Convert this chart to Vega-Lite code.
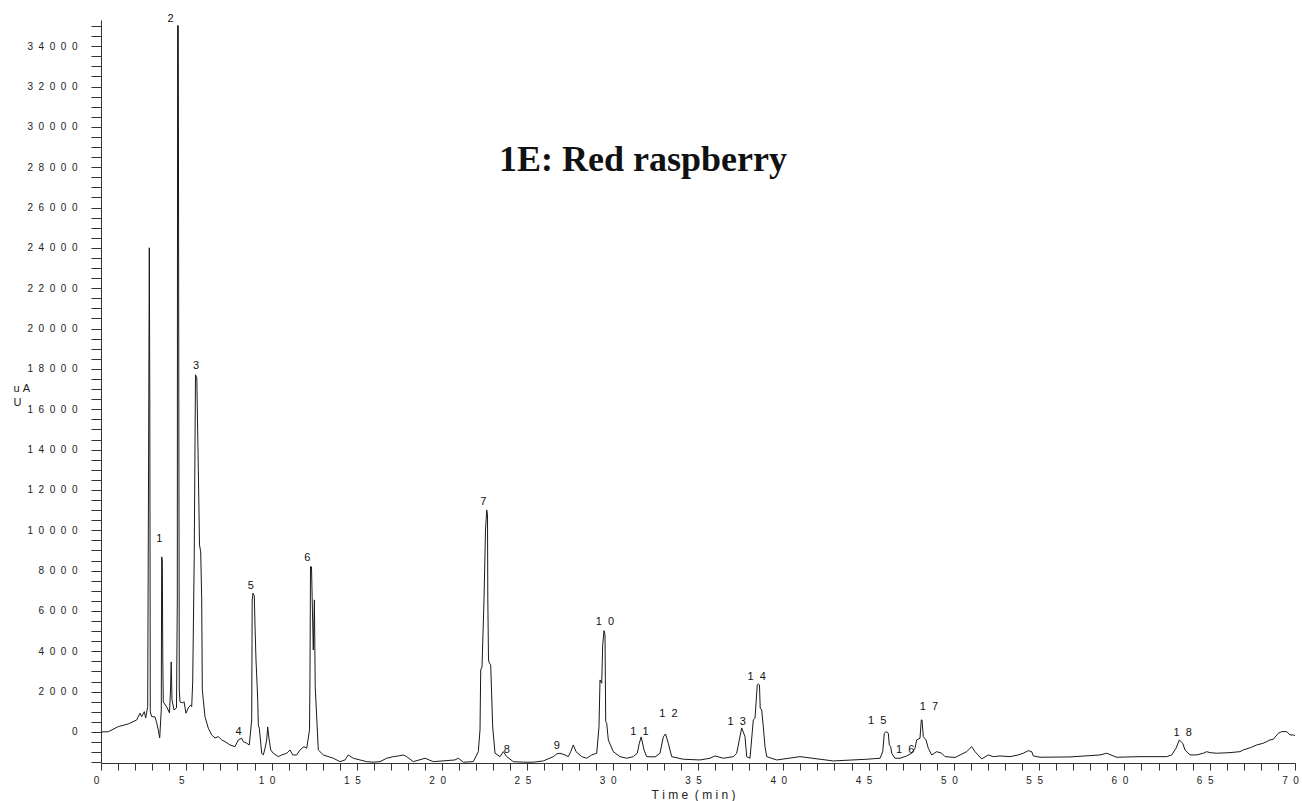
{
  "$schema": "https://vega.github.io/schema/vega-lite/v6.json",
  "width": 1194,
  "height": 743,
  "autosize": {"type": "none"},
  "padding": {"left": 101, "top": 20, "right": 7, "bottom": 38},
  "background": "white",
  "config": {"view": {"stroke": null}},
  "title": {"text": "1E: Red raspberry", "font": "Liberation Serif", "fontSize": 36, "fontWeight": "bold", "color": "#111", "anchor": "middle", "dx": -55, "dy": 194, "offset": 0, "baseline": "alphabetic"},
  "datasets": {
    "trace": [
      {"t":0,"v":0},{"t":0.428,"v":10},{"t":1.014,"v":263},{"t":1.6,"v":397},{"t":2.093,"v":595},{"t":2.286,"v":928},{"t":2.386,"v":759},{"t":2.538,"v":1007},{"t":2.621,"v":694},{"t":2.738,"v":1255},{"t":2.802,"v":16467},{"t":2.832,"v":24006},{"t":2.861,"v":16467},{"t":2.89,"v":992},{"t":2.972,"v":759},{"t":3.166,"v":744},{"t":3.266,"v":446},{"t":3.359,"v":99},{"t":3.441,"v":-298},{"t":3.534,"v":1091},{"t":3.558,"v":8680},{"t":3.594,"v":8531},{"t":3.623,"v":3571},{"t":3.652,"v":1488},{"t":3.852,"v":1240},{"t":4.016,"v":942},{"t":4.075,"v":2083},{"t":4.116,"v":3472},{"t":4.163,"v":1587},{"t":4.28,"v":1091},{"t":4.426,"v":1190},{"t":4.473,"v":6547},{"t":4.491,"v":35018},{"t":4.532,"v":35018},{"t":4.561,"v":16814},{"t":4.59,"v":2083},{"t":4.632,"v":1488},{"t":4.79,"v":1438},{"t":4.866,"v":1503},{"t":4.983,"v":928},{"t":5.118,"v":1190},{"t":5.259,"v":1339},{"t":5.318,"v":1255},{"t":5.376,"v":2480},{"t":5.464,"v":8531},{"t":5.54,"v":17707},{"t":5.616,"v":17558},{"t":5.657,"v":15475},{"t":5.704,"v":13144},{"t":5.775,"v":9275},{"t":5.845,"v":8928},{"t":5.904,"v":6547},{"t":5.939,"v":2083},{"t":5.998,"v":1587},{"t":6.097,"v":759},{"t":6.291,"v":184},{"t":6.49,"v":-149},{"t":6.683,"v":-298},{"t":6.877,"v":-233},{"t":7.076,"v":-397},{"t":7.27,"v":-481},{"t":7.563,"v":-645},{"t":7.856,"v":-729},{"t":8.049,"v":-397},{"t":8.249,"v":-312},{"t":8.343,"v":-481},{"t":8.542,"v":-560},{"t":8.694,"v":-645},{"t":8.835,"v":595},{"t":8.864,"v":6547},{"t":8.911,"v":6880},{"t":8.987,"v":6746},{"t":9.028,"v":5307},{"t":9.087,"v":3571},{"t":9.157,"v":2232},{"t":9.187,"v":1587},{"t":9.222,"v":347},{"t":9.28,"v":184},{"t":9.421,"v":-1056},{"t":9.515,"v":-1141},{"t":9.615,"v":-808},{"t":9.714,"v":-397},{"t":9.773,"v":248},{"t":9.849,"v":-312},{"t":9.949,"v":-893},{"t":10.101,"v":-1056},{"t":10.395,"v":-1225},{"t":10.594,"v":-1141},{"t":10.887,"v":-1056},{"t":11.08,"v":-893},{"t":11.239,"v":-1141},{"t":11.473,"v":-1141},{"t":11.667,"v":-893},{"t":11.901,"v":-729},{"t":12.06,"v":-808},{"t":12.224,"v":99},{"t":12.253,"v":2926},{"t":12.282,"v":8199},{"t":12.341,"v":8184},{"t":12.446,"v":4067},{"t":12.511,"v":6547},{"t":12.558,"v":2232},{"t":12.663,"v":446},{"t":12.739,"v":-893},{"t":13.033,"v":-1141},{"t":13.619,"v":-1304},{"t":14.012,"v":-1473},{"t":14.305,"v":-1389},{"t":14.498,"v":-1141},{"t":14.792,"v":-1304},{"t":15.184,"v":-1389},{"t":15.577,"v":-1473},{"t":15.964,"v":-1500},{"t":16.357,"v":-1473},{"t":16.75,"v":-1304},{"t":17.137,"v":-1225},{"t":17.43,"v":-1190},{"t":17.723,"v":-1141},{"t":17.923,"v":-1225},{"t":18.309,"v":-1473},{"t":18.995,"v":-1304},{"t":19.482,"v":-1473},{"t":20.754,"v":-1389},{"t":20.947,"v":-1304},{"t":21.241,"v":-1500},{"t":21.827,"v":-1473},{"t":22.12,"v":-977},{"t":22.22,"v":99},{"t":22.261,"v":3075},{"t":22.337,"v":3224},{"t":22.454,"v":6547},{"t":22.542,"v":10019},{"t":22.613,"v":11011},{"t":22.66,"v":10763},{"t":22.677,"v":6646},{"t":22.718,"v":3571},{"t":22.765,"v":3422},{"t":22.847,"v":3323},{"t":22.894,"v":2083},{"t":22.964,"v":248},{"t":23.099,"v":-1056},{"t":23.392,"v":-1225},{"t":23.586,"v":-977},{"t":23.785,"v":-1225},{"t":24.172,"v":-1473},{"t":24.758,"v":-1500},{"t":25.345,"v":-1500},{"t":25.931,"v":-1438},{"t":26.517,"v":-1225},{"t":26.717,"v":-1091},{"t":26.91,"v":-1056},{"t":27.203,"v":-1141},{"t":27.397,"v":-1225},{"t":27.537,"v":-977},{"t":27.69,"v":-645},{"t":27.848,"v":-977},{"t":28.182,"v":-1225},{"t":28.475,"v":-1304},{"t":28.768,"v":-1141},{"t":29.062,"v":-1056},{"t":29.196,"v":263},{"t":29.255,"v":2579},{"t":29.355,"v":2416},{"t":29.413,"v":4315},{"t":29.49,"v":5024},{"t":29.548,"v":4811},{"t":29.589,"v":511},{"t":29.648,"v":432},{"t":29.742,"v":-397},{"t":30.035,"v":-977},{"t":30.427,"v":-1225},{"t":30.82,"v":-1304},{"t":31.207,"v":-1225},{"t":31.441,"v":-1056},{"t":31.559,"v":-560},{"t":31.67,"v":-248},{"t":31.835,"v":-893},{"t":31.993,"v":-1225},{"t":32.48,"v":-1240},{"t":32.773,"v":-1056},{"t":32.966,"v":-248},{"t":33.095,"v":-99},{"t":33.259,"v":-560},{"t":33.458,"v":-1225},{"t":34.138,"v":-1354},{"t":35.117,"v":-1389},{"t":35.703,"v":-1304},{"t":35.996,"v":-1190},{"t":36.484,"v":-1304},{"t":37.07,"v":-1225},{"t":37.269,"v":-1056},{"t":37.562,"v":198},{"t":37.756,"v":-233},{"t":37.855,"v":-1225},{"t":38.049,"v":-1304},{"t":38.242,"v":595},{"t":38.342,"v":680},{"t":38.476,"v":2331},{"t":38.535,"v":2381},{"t":38.605,"v":2331},{"t":38.646,"v":1190},{"t":38.734,"v":1091},{"t":38.828,"v":263},{"t":38.928,"v":-729},{"t":39.027,"v":-1225},{"t":39.614,"v":-1389},{"t":40.98,"v":-1225},{"t":42.932,"v":-1438},{"t":44.89,"v":-1354},{"t":45.67,"v":-1304},{"t":45.829,"v":-977},{"t":45.922,"v":-64},{"t":46.022,"v":15},{"t":46.157,"v":-64},{"t":46.216,"v":-645},{"t":46.298,"v":-729},{"t":46.356,"v":-1056},{"t":46.55,"v":-1304},{"t":46.843,"v":-1304},{"t":47.236,"v":-1190},{"t":47.529,"v":-1056},{"t":47.722,"v":-808},{"t":47.822,"v":-397},{"t":48.015,"v":-312},{"t":48.092,"v":595},{"t":48.133,"v":595},{"t":48.209,"v":-233},{"t":48.367,"v":-397},{"t":48.502,"v":-808},{"t":48.701,"v":-1141},{"t":48.994,"v":-977},{"t":49.288,"v":-1056},{"t":49.481,"v":-1225},{"t":50.067,"v":-1265},{"t":50.753,"v":-977},{"t":50.947,"v":-808},{"t":51.046,"v":-729},{"t":51.24,"v":-977},{"t":51.633,"v":-1339},{"t":52.02,"v":-1141},{"t":52.313,"v":-1225},{"t":52.706,"v":-1190},{"t":53.292,"v":-1225},{"t":53.779,"v":-1141},{"t":54.072,"v":-1056},{"t":54.365,"v":-928},{"t":54.564,"v":-977},{"t":54.658,"v":-1190},{"t":55.051,"v":-1255},{"t":56.81,"v":-1240},{"t":58.569,"v":-1141},{"t":58.962,"v":-1056},{"t":59.349,"v":-1190},{"t":59.548,"v":-1255},{"t":60.914,"v":-1225},{"t":62.479,"v":-1225},{"t":62.772,"v":-1141},{"t":63.024,"v":-808},{"t":63.218,"v":-397},{"t":63.417,"v":-560},{"t":63.552,"v":-893},{"t":63.845,"v":-1141},{"t":64.238,"v":-1141},{"t":64.625,"v":-1056},{"t":64.824,"v":-977},{"t":65.018,"v":-1027},{"t":65.41,"v":-1056},{"t":66.19,"v":-1027},{"t":66.776,"v":-977},{"t":66.97,"v":-893},{"t":67.462,"v":-759},{"t":67.755,"v":-645},{"t":68.142,"v":-560},{"t":68.535,"v":-397},{"t":68.728,"v":-362},{"t":69.022,"v":-64},{"t":69.221,"v":15},{"t":69.514,"v":15},{"t":69.708,"v":-149},{"t":69.902,"v":-149},{"t":70,"v":-180}
    ],
    "peaks": [
      {"label":"1","t":3.418,"v":9558},{"label":"2","t":4.075,"v":35365},{"label":"3","t":5.57,"v":18154},{"label":"4","t":8.07,"v":0},{"label":"5","t":8.776,"v":7242},{"label":"6","t":12.095,"v":8616},{"label":"7","t":22.41,"v":11423},{"label":"8","t":23.785,"v":-893},{"label":"9","t":26.72,"v":-694},{"label":"10","t":29.55,"v":5471},{"label":"11","t":31.56,"v":0},{"label":"12","t":33.26,"v":878},{"label":"13","t":37.27,"v":511},{"label":"14","t":38.44,"v":2743},{"label":"15","t":45.51,"v":546},{"label":"16","t":47.14,"v":-893},{"label":"17","t":48.54,"v":1255},{"label":"18","t":63.42,"v":-35}
    ]
  },
  "encoding": {
    "x": {
      "field": "t", "type": "quantitative",
      "scale": {"domain": [0, 70], "nice": false, "zero": false},
      "axis": {
        "values": [0,1,2,3,4,5,6,7,8,9,10,11,12,13,14,15,16,17,18,19,20,21,22,23,24,25,26,27,28,29,30,31,32,33,34,35,36,37,38,39,40,41,42,43,44,45,46,47,48,49,50,51,52,53,54,55,56,57,58,59,60,61,62,63,64,65,66,67,68,69,70],
        "labelExpr": "datum.value % 5 == 0 ? join(split(format(datum.value, 'd'), ''), '\u00a0\u00a0') : ''",
        "labelOverlap": false, "labelBound": false, "labelFlush": false,
        "tickSize": 7, "labelPadding": 5, "labelOffset": -5,
        "labelFont": "Liberation Sans", "labelFontSize": 10, "labelColor": "#222",
        "domainColor": "#333", "tickColor": "#333", "grid": false,
        "title": "T\u00a0i\u00a0m\u00a0e\u00a0\u00a0(\u00a0m\u00a0i\u00a0n\u00a0)",
        "titleFont": "Liberation Sans", "titleFontSize": 12, "titleFontWeight": "normal", "titleColor": "#222",
        "titleX": 592, "titleY": 35, "titleBaseline": "alphabetic", "titleAlign": "center"
      }
    },
    "y": {
      "field": "v", "type": "quantitative",
      "scale": {"domain": [-1540, 35300], "nice": false, "zero": false},
      "axis": {
        "values": [-1500,-1000,-500,0,500,1000,1500,2000,2500,3000,3500,4000,4500,5000,5500,6000,6500,7000,7500,8000,8500,9000,9500,10000,10500,11000,11500,12000,12500,13000,13500,14000,14500,15000,15500,16000,16500,17000,17500,18000,18500,19000,19500,20000,20500,21000,21500,22000,22500,23000,23500,24000,24500,25000,25500,26000,26500,27000,27500,28000,28500,29000,29500,30000,30500,31000,31500,32000,32500,33000,33500,34000,34500,35000],
        "labelExpr": "datum.value % 2000 == 0 ? join(split(format(datum.value, 'd'), ''), '\u00a0\u00a0') : ''",
        "labelOverlap": false, "labelBound": false, "labelFlush": false,
        "tickSize": 10, "labelPadding": 14,
        "labelFont": "Liberation Sans", "labelFontSize": 10, "labelColor": "#222",
        "domainColor": "#333", "tickColor": "#333", "grid": false,
        "title": ["u\u00a0A", "U"], "titleAngle": 0, "titleAlign": "left",
        "titleX": -88, "titleY": 371, "titleBaseline": "alphabetic",
        "titleFont": "Liberation Sans", "titleFontSize": 11, "titleFontWeight": "normal", "titleColor": "#222", "titleLineHeight": 14
      }
    }
  },
  "layer": [
    {
      "data": {"name": "trace"},
      "mark": {"type": "line", "color": "#1a1a1a", "strokeWidth": 1, "clip": true, "interpolate": "linear"}
    },
    {
      "data": {"name": "peaks"},
      "mark": {"type": "text", "font": "Liberation Sans", "fontSize": 11, "color": "#111", "align": "center", "baseline": "middle", "text": {"expr": "join(split(datum.label, ''), '\u00a0\u00a0')"}}
    }
  ]
}
